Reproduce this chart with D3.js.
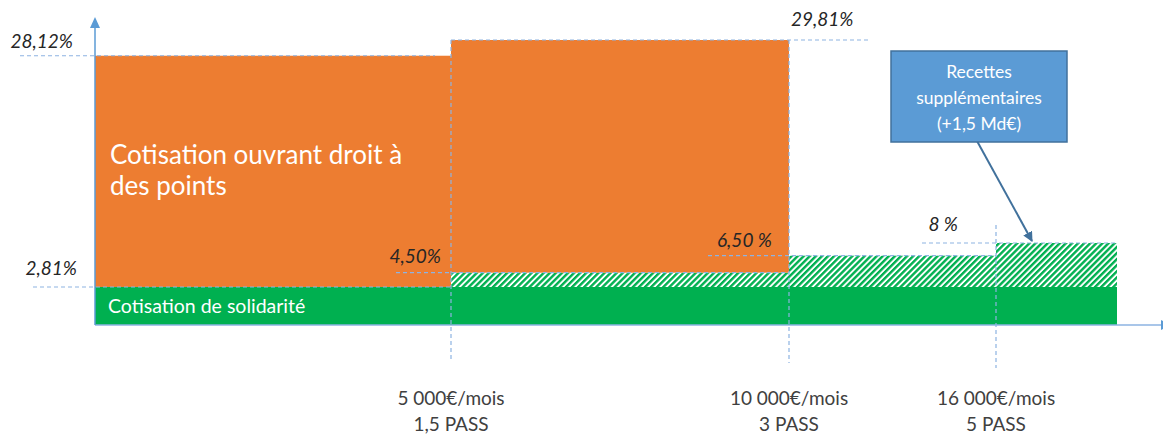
<!DOCTYPE html>
<html><head><meta charset="utf-8">
<script src="https://cdn.jsdelivr.net/npm/d3@7"></script>
<style>body{margin:0;background:#fff}svg{display:block}text{font-family:Lato,"Open Sans",sans-serif}</style>
</head><body><svg id="c" width="1163" height="436"></svg>
<script>
// ---- data ----
const passBounds = [0, 1.5, 3, 5, 6.17];            // segment bounds in PASS (last = end of chart)
const salaryLabels = ["5 000€/mois", "10 000€/mois", "16 000€/mois"];
const passLabels = ["1,5 PASS", "3 PASS", "5 PASS"];
const solidarityRates = [2.81, 4.50, 6.50, 8.00];   // per segment, total solidarity rate
const pointsRates = [25.31, 25.31];                 // points contribution, first two segments
const totalLabels = ["28,12%", "29,81%"];
const solidarityLabels = ["2,81%", "4,50%", "6,50 %", "8 %"];
const seriesNames = ["Cotisation ouvrant droit à", "des points"];
const solidarityName = "Cotisation de solidarité";
const calloutLines = ["Recettes", "supplémentaires", "(+1,5 Md€)"];

// ---- layout ----
const svg = d3.select("#c");
const x = d3.scaleLinear().domain(passBounds).range([95, 451, 789, 996, 1117]);
const y = d3.scaleLinear().domain([0, 2.81, 8, 29.81]).range([325, 287, 243, 40]);
const ORANGE = "#ED7D31", GREEN = "#00B050", AXIS = "#5B9BD5", DASH = "#8DB3E2", TXT = "#262626";
const base = solidarityRates[0];

const defs = svg.append("defs");
const pat = defs.append("pattern").attr("id", "hatch").attr("patternUnits", "userSpaceOnUse")
  .attr("width", 4.3).attr("height", 4.3).attr("patternTransform", "rotate(45)");
pat.append("rect").attr("width", 4.3).attr("height", 4.3).attr("fill", "#fff");
pat.append("rect").attr("width", 2.4).attr("height", 4.3).attr("fill", GREEN);
defs.append("marker").attr("id", "arr").attr("viewBox", "0 0 10 10").attr("refX", 9).attr("refY", 5)
  .attr("markerWidth", 5).attr("markerHeight", 5).attr("orient", "auto")
  .append("path").attr("d", "M0,0L10,5L0,10z").attr("fill", "#41719C");

// green solid band
svg.append("rect").attr("x", x(passBounds[0])).attr("width", x(passBounds[4]) - x(passBounds[0]))
  .attr("y", y(base)).attr("height", y(0) - y(base)).attr("fill", GREEN);

// hatched extra solidarity
const segs = solidarityRates.map((r, i) => ({i, r, x0: passBounds[i], x1: passBounds[i + 1]}));
svg.selectAll("rect.h").data(segs.filter(d => d.r > base)).enter().append("rect").attr("class", "h")
  .attr("x", d => x(d.x0)).attr("width", d => x(d.x1) - x(d.x0))
  .attr("y", d => y(d.r)).attr("height", d => y(base) - y(d.r)).attr("fill", "url(#hatch)");

// orange points bars
svg.selectAll("rect.o").data(pointsRates.map((p, i) => ({i, lo: solidarityRates[i], hi: solidarityRates[i] + p})))
  .enter().append("rect").attr("class", "o")
  .attr("x", d => x(passBounds[d.i])).attr("width", d => x(passBounds[d.i + 1]) - x(passBounds[d.i]))
  .attr("y", d => y(d.hi)).attr("height", d => y(d.lo) - y(d.hi)).attr("fill", ORANGE);

// dashed guide lines
const dl = (x1, y1, x2, y2) => svg.append("line").attr("x1", x1).attr("y1", y1).attr("x2", x2).attr("y2", y2)
  .attr("stroke", DASH).attr("stroke-width", 1.2).attr("stroke-dasharray", "4,3");
const tot = pointsRates.map((p, i) => solidarityRates[i] + p);
dl(20, y(tot[0]), x(passBounds[1]) - 16, y(tot[0]));
dl(x(passBounds[1]), y(tot[1]), x(passBounds[2]) + 80, y(tot[1]));
dl(33, y(solidarityRates[0]), x(passBounds[1]), y(solidarityRates[0]));
dl(x(passBounds[1]) - 55, y(solidarityRates[1]), x(passBounds[2]), y(solidarityRates[1]));
dl(x(passBounds[2]) - 81, y(solidarityRates[2]), x(passBounds[3]), y(solidarityRates[2]));
dl(x(passBounds[3]) - 74, y(solidarityRates[3]), x(passBounds[4]), y(solidarityRates[3]));
dl(x(passBounds[1]), y(tot[1]), x(passBounds[1]), 360);
dl(x(passBounds[2]), y(tot[1]), x(passBounds[2]), 363);
dl(x(passBounds[3]), y(solidarityRates[3]) - 18, x(passBounds[3]), 368);

// axes
svg.append("line").attr("x1", x(0)).attr("x2", 1163).attr("y1", y(0)).attr("y2", y(0))
  .attr("stroke", "#8DB3E2").attr("stroke-width", 1.5);
svg.append("path").attr("d", `M1161,${y(0)-5}L1171,${y(0)}L1161,${y(0)+5}z`).attr("fill", AXIS);
svg.append("line").attr("x1", x(0)).attr("x2", x(0)).attr("y1", y(0)).attr("y2", 26)
  .attr("stroke", AXIS).attr("stroke-width", 1.5);
svg.append("path").attr("d", `M${x(0)},17L${x(0)+5},28L${x(0)-5},28z`).attr("fill", AXIS);

// rate labels (italic)
const lab = (t, xx, yy, anchor) => svg.append("text").text(t).attr("x", xx).attr("y", yy)
  .attr("text-anchor", anchor).attr("font-style", "italic").attr("font-size", 19).attr("fill", TXT);
lab(totalLabels[0], 73, y(tot[0]) - 8, "end");
lab(totalLabels[1], x(passBounds[2]) + 2, y(tot[1]) - 14, "start");
lab(solidarityLabels[0], 77, y(solidarityRates[0]) - 12, "end");
lab(solidarityLabels[1], x(passBounds[1]) - 10, y(solidarityRates[1]) - 10, "end");
lab(solidarityLabels[2], x(passBounds[2]) - 17, y(solidarityRates[2]) - 9, "end");
lab(solidarityLabels[3], x(passBounds[3]) - 38, y(solidarityRates[3]) - 12, "end");

// series names
seriesNames.forEach((t, i) => svg.append("text").text(t).attr("x", 110).attr("y", 164 + i * 31)
  .attr("font-size", 26).attr("fill", "#fff"));
svg.append("text").text(solidarityName).attr("x", 108).attr("y", 313).attr("font-size", 19.5).attr("fill", "#fff");

// x labels
passBounds.slice(1, 4).forEach((b, i) => {
  svg.append("text").text(salaryLabels[i]).attr("x", x(b)).attr("y", 405).attr("text-anchor", "middle")
    .attr("font-size", 19).attr("fill", "#404040");
  svg.append("text").text(passLabels[i]).attr("x", x(b)).attr("y", 431).attr("text-anchor", "middle")
    .attr("font-size", 19).attr("fill", "#404040");
});

// callout
const bx = 891, by = 51, bw = 176, bh = 91;
svg.append("line").attr("x1", 977).attr("y1", by + bh - 1).attr("x2", 1032).attr("y2", y(solidarityRates[3]) - 2)
  .attr("stroke", "#41719C").attr("stroke-width", 2).attr("marker-end", "url(#arr)");
svg.append("rect").attr("x", bx).attr("y", by).attr("width", bw).attr("height", bh)
  .attr("fill", "#5B9BD5").attr("stroke", "#41719C").attr("stroke-width", 1.5);
calloutLines.forEach((t, i) => svg.append("text").text(t).attr("x", bx + bw / 2).attr("y", 78 + i * 26)
  .attr("text-anchor", "middle").attr("font-size", 17.5).attr("fill", "#fff"));
</script></body></html>
